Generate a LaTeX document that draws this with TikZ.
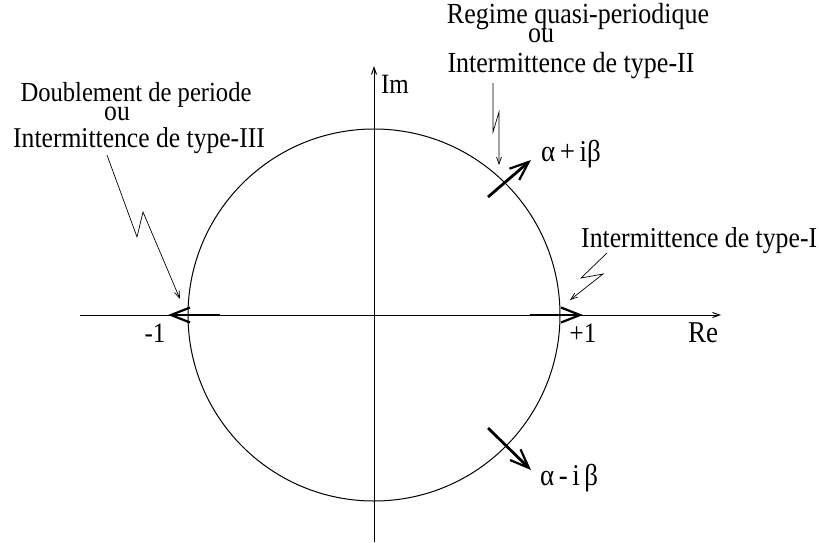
\documentclass[tikz,border=0pt]{standalone}
\usepackage{graphicx}
\usepackage{fontspec}
\setmainfont{Liberation Serif}
\usetikzlibrary{arrows.meta}
\newcommand{\vstr}[1]{\scalebox{1}[1.12]{#1}}
\begin{document}
\begin{tikzpicture}[x=1pt,y=-1pt,
  lbl/.style={inner sep=0pt,font=\fontsize{25.8}{26}\selectfont},
  fs/.style={font=\fontsize{#1}{#1}\selectfont},
  pointer/.style={line width=0.7pt,-{Straight Barb[length=7pt,width=5pt]}},
  axis/.style={line width=1pt,-{Straight Barb[length=7pt,width=5pt]}},
  bigarrow/.style={line width=2.8pt,-{Straight Barb[length=19pt,width=15pt,line width=2.2pt]}}]
\useasboundingbox (0,0) rectangle (819,542);
% axes
\coordinate (xa) at (80,315);
\coordinate (xb) at (721,315);
\coordinate (ya) at (374,542);
\coordinate (yb) at (374,66);
\draw[axis] (xa) -- (xb);
\draw[axis] (ya) -- (yb);
% circle
\coordinate (O) at (374,315);
\draw[line width=1pt] (O) circle[radius=186];
% thick arrows
\coordinate (m1s) at (220,315);
\coordinate (m1t) at (168,315);
\coordinate (p1s) at (530,315);
\coordinate (p1t) at (583,315);
\coordinate (ups) at (488,197);
\coordinate (upt) at (531,160);
\coordinate (dns) at (488,428);
\coordinate (dnt) at (531,470);
\draw[bigarrow] (m1s) -- (m1t);
\draw[bigarrow] (p1s) -- (p1t);
\draw[bigarrow] (ups) -- (upt);
\draw[bigarrow] (dns) -- (dnt);
% labels
\node[lbl,fs=25,anchor=base] (im) at (395,93) {\vstr{Im}};
\node[lbl,fs=27,anchor=base] (re) at (703,342) {\vstr{Re}};
\node[lbl,fs=25,anchor=base] (p1) at (583,342) {\vstr{+1}};
\node[lbl,fs=25,anchor=base] (m1) at (155,342) {\vstr{-1}};
\node[lbl,fs=27,anchor=base west] (apb) at (541,161) {\vstr{α\,+\,iβ}};
\node[lbl,fs=27,anchor=base west] (amb) at (540,485) {\vstr{α\,-\,i\,β}};
% left text
\node[lbl,fs=24.6,anchor=base] (t1a) at (136,101) {\vstr{Doublement de periode}};
\node[lbl,fs=25.6,anchor=base] (t1b) at (117,120) {\vstr{ou}};
\node[lbl,fs=25.6,anchor=base] (t1c) at (139,147) {\vstr{Intermittence de type-III}};
% top text
\node[lbl,fs=26,anchor=base] (t2a) at (578,23) {\vstr{Regime quasi-periodique}};
\node[lbl,fs=26,anchor=base] (t2b) at (541,42) {\vstr{ou}};
\node[lbl,fs=26,anchor=base] (t2c) at (571,72) {\vstr{Intermittence de type-II}};
% right text
\node[lbl,fs=25.75,anchor=base west] (t3) at (581,247) {\vstr{Intermittence de type-I}};
% zigzag pointers
\coordinate (z1a) at (107,155);
\coordinate (z1b) at (137,237);
\coordinate (z1c) at (143,212);
\coordinate (z1d) at (180,299);
\draw[pointer] (z1a) -- (z1b) -- (z1c) -- (z1d);
\coordinate (z2a) at (493,83);
\coordinate (z2b) at (493,132);
\coordinate (z2c) at (499,112);
\coordinate (z2d) at (499,165);
\draw[pointer] (z2a) -- (z2b) -- (z2c) -- (z2d);
\coordinate (z3a) at (607,253);
\coordinate (z3b) at (581,278);
\coordinate (z3c) at (603,274);
\coordinate (z3d) at (570,300);
\draw[pointer] (z3a) -- (z3b) -- (z3c) -- (z3d);
\end{tikzpicture}
\end{document}
